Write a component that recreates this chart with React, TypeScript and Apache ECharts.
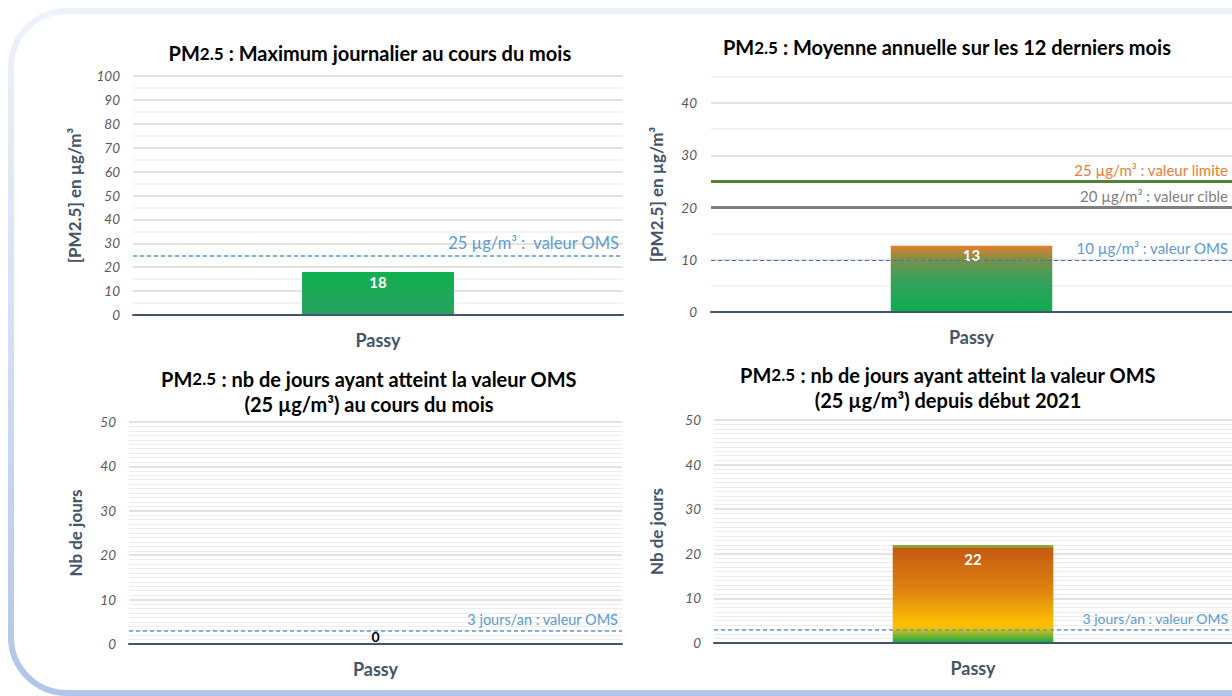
import React, { useEffect, useRef } from "react";
import * as echarts from "echarts";

const categories = ["Passy"];
const maxJournalier = [18];
const moyenneAnnuelle = [12.7];
const joursMois = [0];
const joursDepuis2021 = [22];

const oms1 = 25;
const limite2 = 25;
const cible2 = 20;
const oms2 = 10;
const omsJours = 3;

const titles = [
  "{a|PM}{b|2.5}{a| : Maximum journalier au cours du mois}",
  "{a|PM}{b|2.5}{a| : Moyenne annuelle sur les 12 derniers mois}",
  "{a|PM}{b|2.5}{a| : nb de jours ayant atteint la valeur OMS}\n{a|(25 µg/m³) au cours du mois}",
  "{a|PM}{b|2.5}{a| : nb de jours ayant atteint la valeur OMS}\n{a|(25 µg/m³) depuis début 2021}",
];

const FONT = "Lato, 'Open Sans', sans-serif";
const DARK = "#44546a";
const BLUE = "#5b9bd5";

export default function App() {
  const ref = useRef<HTMLDivElement>(null);
  useEffect(() => {
    if (!ref.current) return;
    const chart = echarts.init(ref.current, null, { renderer: "svg" });
    const lg = (stops: [number, string][]) =>
      new echarts.graphic.LinearGradient(
        0,
        0,
        0,
        1,
        stops.map(([offset, color]) => ({ offset, color }))
      );

    const titleRich = {
      a: { fontFamily: FONT, fontWeight: "bold", fontSize: 20, color: DARK, lineHeight: 25 },
      b: { fontFamily: FONT, fontWeight: "bold", fontSize: 17, color: DARK, lineHeight: 25 },
    };
    const titlePos = [
      [370, 53],
      [947, 47],
      [369, 391],
      [948, 387],
    ];

    const yLabel = {
      fontFamily: FONT,
      fontStyle: "italic",
      fontSize: 13.5,
      color: "#595959",
      margin: 13,
    };
    const yName = {
      fontFamily: FONT,
      fontWeight: "bold",
      fontSize: 17,
      color: DARK,
    };
    const xAxisBase = (gi: number) => ({
      type: "category",
      gridIndex: gi,
      data: categories,
      axisTick: { show: false },
      axisLine: { lineStyle: { color: DARK, width: 2 } },
      axisLabel: {
        fontFamily: FONT,
        fontWeight: "bold",
        fontSize: 18,
        color: DARK,
        margin: 16,
      },
      z: 5,
    });

    const mlLabel = (text: string, color: string, size = 15) => ({
      show: true,
      position: "insideEndTop",
      formatter: text,
      color,
      fontFamily: FONT,
      fontSize: size,
      distance: 4,
    });

    const option: any = {
      animation: false,
      backgroundColor: "#ffffff",
      graphic: [
        {
          type: "rect",
          shape: { x: 11, y: 11, width: 1320, height: 682, r: 56 },
          style: {
            fill: "none",
            lineWidth: 6,
            stroke: lg([
              [0, "#eef2f9"],
              [0.4, "#d9e3f3"],
              [1, "#b1c5e8"],
            ]),
          },
          silent: true,
          z: -10,
        },
        ...titles.map((t, i) => ({
          type: "text",
          x: titlePos[i][0],
          y: titlePos[i][1],
          style: {
            text: t,
            rich: titleRich,
            align: "center",
            verticalAlign: "middle",
          },
        })),
      ],
      grid: [
        { left: 133, top: 76, width: 490, height: 239 },
        { left: 711, top: 77, width: 522, height: 235 },
        { left: 129, top: 422, width: 493, height: 222 },
        { left: 714, top: 420, width: 519, height: 223 },
      ],
      xAxis: [xAxisBase(0), xAxisBase(1), xAxisBase(2), xAxisBase(3)],
      yAxis: [
        {
          type: "value",
          gridIndex: 0,
          min: 0,
          max: 100,
          interval: 10,
          axisLabel: yLabel,
          axisLine: { show: false },
          axisTick: { show: false },
          splitLine: { lineStyle: { color: "#d9d9d9", width: 1.5 } },
          minorTick: { show: false, splitNumber: 2 },
          minorSplitLine: { show: true, lineStyle: { color: "#efefef", width: 1.5 } },
          name: "[PM2.5] en µg/m³",
          nameLocation: "middle",
          nameRotate: 90,
          nameGap: 50,
          nameTextStyle: yName,
        },
        {
          type: "value",
          gridIndex: 1,
          min: 0,
          max: 45,
          interval: 5,
          axisLabel: {
            ...yLabel,
            margin: 14,
            formatter: (v: number) => (v % 10 === 0 ? String(v) : ""),
          },
          axisLine: { show: false },
          axisTick: { show: false },
          splitLine: { lineStyle: { color: ["#d9d9d9", "#efefef"], width: 1.5 } },
          name: "[PM2.5] en µg/m³",
          nameLocation: "middle",
          nameRotate: 90,
          nameGap: 46,
          nameTextStyle: yName,
        },
        {
          type: "value",
          gridIndex: 2,
          min: 0,
          max: 50,
          interval: 10,
          axisLabel: yLabel,
          axisLine: { show: false },
          axisTick: { show: false },
          splitLine: { lineStyle: { color: "#d9d9d9", width: 1.5 } },
          minorTick: { show: false, splitNumber: 10 },
          minorSplitLine: { show: true, lineStyle: { color: "#ededed", width: 1 } },
          name: "Nb de jours",
          nameLocation: "middle",
          nameRotate: 90,
          nameGap: 45,
          nameTextStyle: yName,
        },
        {
          type: "value",
          gridIndex: 3,
          min: 0,
          max: 50,
          interval: 10,
          axisLabel: yLabel,
          axisLine: { show: false },
          axisTick: { show: false },
          splitLine: { lineStyle: { color: "#d9d9d9", width: 1.5 } },
          minorTick: { show: false, splitNumber: 10 },
          minorSplitLine: { show: true, lineStyle: { color: "#ededed", width: 1 } },
          name: "Nb de jours",
          nameLocation: "middle",
          nameRotate: 90,
          nameGap: 49,
          nameTextStyle: yName,
        },
      ],
      series: [
        {
          type: "bar",
          xAxisIndex: 0,
          yAxisIndex: 0,
          data: maxJournalier,
          barWidth: "31%",
          itemStyle: { color: lg([[0, "#0fb04f"], [1, "#29a05f"]]) },
          label: {
            show: true,
            position: "insideTop",
            distance: 3,
            color: "#ffffff",
            fontFamily: FONT,
            fontWeight: "bold",
            fontSize: 15,
          },
          markLine: {
            silent: true,
            symbol: "none",
            lineStyle: { color: BLUE, type: [4, 3], width: 1.5 },
            label: mlLabel("25 µg/m³ :  valeur OMS", BLUE, 16.5),
            data: [{ yAxis: oms1 }],
          },
        },
        {
          type: "bar",
          xAxisIndex: 1,
          yAxisIndex: 1,
          data: moyenneAnnuelle,
          barWidth: "31%",
          itemStyle: {
            color: lg([
              [0, "#e8802c"],
              [0.2, "#7f8f45"],
              [0.5, "#38a05c"],
              [1, "#0dae4f"],
            ]),
          },
          label: {
            show: true,
            position: "insideTop",
            distance: 2,
            color: "#ffffff",
            fontFamily: FONT,
            fontWeight: "bold",
            fontSize: 15,
            formatter: (p: any) => Math.round(p.value).toString(),
          },
          markLine: {
            silent: true,
            symbol: "none",
            data: [
              {
                yAxis: limite2,
                lineStyle: { color: "#548235", type: "solid", width: 3 },
                label: mlLabel("25 µg/m³ : valeur limite", "#ed7d31"),
              },
              {
                yAxis: cible2,
                lineStyle: { color: "#7f7f7f", type: "solid", width: 3 },
                label: mlLabel("20 µg/m³ : valeur cible", "#7f7f7f"),
              },
              {
                yAxis: oms2,
                lineStyle: { color: "#4472c4", type: [4, 3], width: 1.2 },
                label: mlLabel("10 µg/m³ : valeur OMS", BLUE),
              },
            ],
          },
        },
        {
          type: "bar",
          xAxisIndex: 2,
          yAxisIndex: 2,
          data: joursMois,
          barWidth: "31%",
          itemStyle: { color: "#0fb04f" },
          label: {
            show: true,
            position: "top",
            distance: 1,
            color: "#000000",
            fontFamily: FONT,
            fontWeight: "bold",
            fontSize: 14,
          },
          markLine: {
            silent: true,
            symbol: "none",
            lineStyle: { color: BLUE, type: [4, 3], width: 1.5 },
            label: mlLabel("3 jours/an : valeur OMS", BLUE, 14.5),
            data: [{ yAxis: omsJours }],
          },
        },
        {
          type: "bar",
          xAxisIndex: 3,
          yAxisIndex: 3,
          data: joursDepuis2021,
          barWidth: "31%",
          itemStyle: {
            color: lg([
              [0, "#8ea83a"],
              [0.025, "#8ea83a"],
              [0.035, "#c55a11"],
              [0.45, "#dd8210"],
              [0.8, "#fdbf02"],
              [0.85, "#f4bf04"],
              [0.91, "#8fb82a"],
              [1, "#12a84a"],
            ]),
          },
          label: {
            show: true,
            position: "insideTop",
            distance: 7,
            color: "#ffffff",
            fontFamily: FONT,
            fontWeight: "bold",
            fontSize: 15,
          },
          markLine: {
            silent: true,
            symbol: "none",
            lineStyle: { color: BLUE, type: [4, 3], width: 1.5 },
            label: mlLabel("3 jours/an : valeur OMS", BLUE, 14),
            data: [{ yAxis: omsJours }],
          },
        },
      ],
    };
    chart.setOption(option);
    return () => chart.dispose();
  }, []);
  return (
    <div
      ref={ref}
      style={{ position: "absolute", left: 0, top: 0, width: 1232, height: 696 }}
    />
  );
}
